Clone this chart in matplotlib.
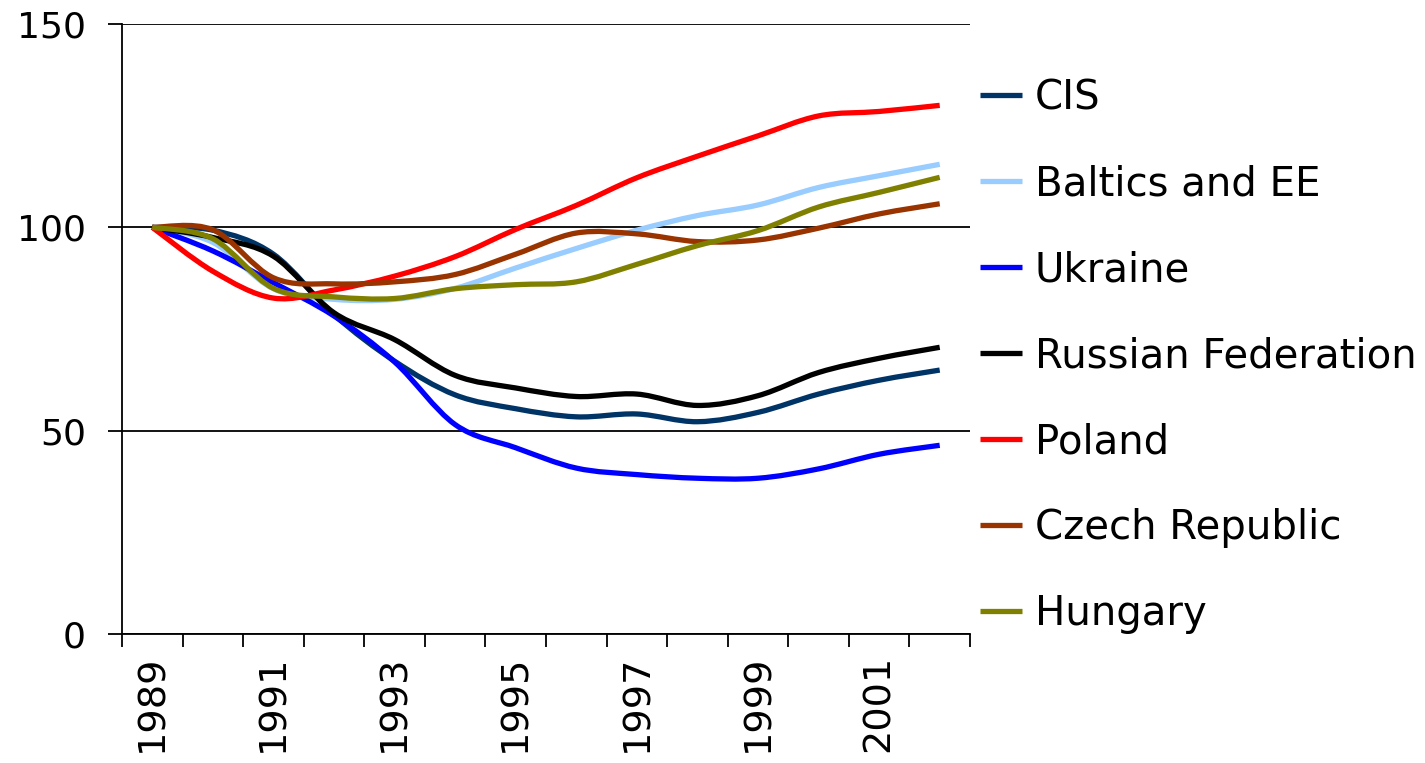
import matplotlib
matplotlib.use("Agg")
import matplotlib.pyplot as plt
import numpy as np
from matplotlib.path import Path
from matplotlib.patches import PathPatch
from matplotlib.lines import Line2D

# data (index 1989 = 100)
years = list(range(1989, 2003))
cis = [100, 99.3, 93.4, 78.5, 67.1, 58.8, 55.4, 53.4, 54.1, 52.2, 54.5, 59.0, 62.4, 64.9]
baltics = [100, 96.3, 84.9, 82.3, 82.3, 85.0, 90.0, 94.8, 99.3, 102.9, 105.5, 109.8, 112.7, 115.5]
ukraine = [100, 94.2, 86.4, 78.2, 66.9, 51.5, 45.8, 40.8, 39.2, 38.3, 38.3, 40.6, 44.2, 46.4]
russia = [100, 97.5, 92.9, 79.0, 72.4, 63.6, 60.5, 58.4, 59.0, 56.2, 58.6, 64.3, 67.8, 70.5]
poland = [100, 89.2, 82.6, 84.6, 88.0, 92.8, 99.5, 105.4, 112.2, 117.5, 122.5, 127.4, 128.5, 130.0]
czech = [100, 99.4, 87.6, 86.1, 86.6, 88.4, 93.4, 98.6, 98.4, 96.5, 96.9, 99.8, 103.3, 105.8]
hungary = [100, 97.2, 85.0, 82.9, 82.5, 84.9, 85.9, 86.6, 90.9, 95.5, 99.2, 105.0, 108.6, 112.3]

names = ["CIS", "Baltics and EE", "Ukraine", "Russian Federation",
         "Poland", "Czech Republic", "Hungary"]
series = [cis, baltics, ukraine, russia, poland, czech, hungary]
colors = ["#003366", "#99CCFF", "#0000FF", "#000000",
          "#FF0000", "#993300", "#808000"]


def smooth_path(xs, ys):
    # excel-style smoothed line: cubic bezier through every point
    pts = np.column_stack([xs, ys])
    verts = [pts[0]]
    codes = [Path.MOVETO]
    n = len(pts)
    for i in range(n - 1):
        p0 = pts[i - 1] if i > 0 else pts[i]
        p1 = pts[i]
        p2 = pts[i + 1]
        p3 = pts[i + 2] if i + 2 < n else pts[i + 1]
        verts += [p1 + (p2 - p0) / 6, p2 - (p3 - p1) / 6, p2]
        codes += [Path.CURVE4] * 3
    return Path(verts, codes)


fig = plt.figure(figsize=(14.25, 7.63), dpi=100)
ax = fig.add_axes([0.0856, 0.1691, 0.5951, 0.7994])

x = np.arange(len(years)) + 0.5
handles = []
for name, vals, c in zip(names, series, colors):
    patch = PathPatch(smooth_path(x, vals), fill=False, edgecolor=c,
                      lw=3.8, capstyle="butt", joinstyle="round")
    ax.add_patch(patch)
    handles.append(Line2D([], [], color=c, lw=3.8, solid_capstyle="butt"))

ax.set_xlim(0, len(years))
ax.set_ylim(0, 150)

ax.set_yticks([0, 50, 100, 150])
ax.yaxis.grid(True, color="black", lw=1.3)
ax.set_axisbelow(True)
ax.tick_params(axis="y", direction="out", length=10, width=1.3,
               labelsize=26, pad=16)

ax.set_xticks(np.arange(0, len(years) + 1), minor=True)
ax.set_xticks(x[::2])
ax.set_xticklabels([str(y) for y in years[::2]], rotation=90)
ax.tick_params(axis="x", which="major", length=0, labelsize=27.5, pad=15)
ax.tick_params(axis="x", which="minor", direction="out", length=9, width=1.3)

for s in ["top", "right"]:
    ax.spines[s].set_visible(False)
for s in ["left", "bottom"]:
    ax.spines[s].set_linewidth(1.3)

fig.legend(handles, names, loc="upper left", bbox_to_anchor=(0.6877, 0.897),
           frameon=False, fontsize=29, handlelength=1.04, handletextpad=0.32,
           labelspacing=1.14, borderaxespad=0, borderpad=0)

fig.savefig("out.png", dpi=100)
